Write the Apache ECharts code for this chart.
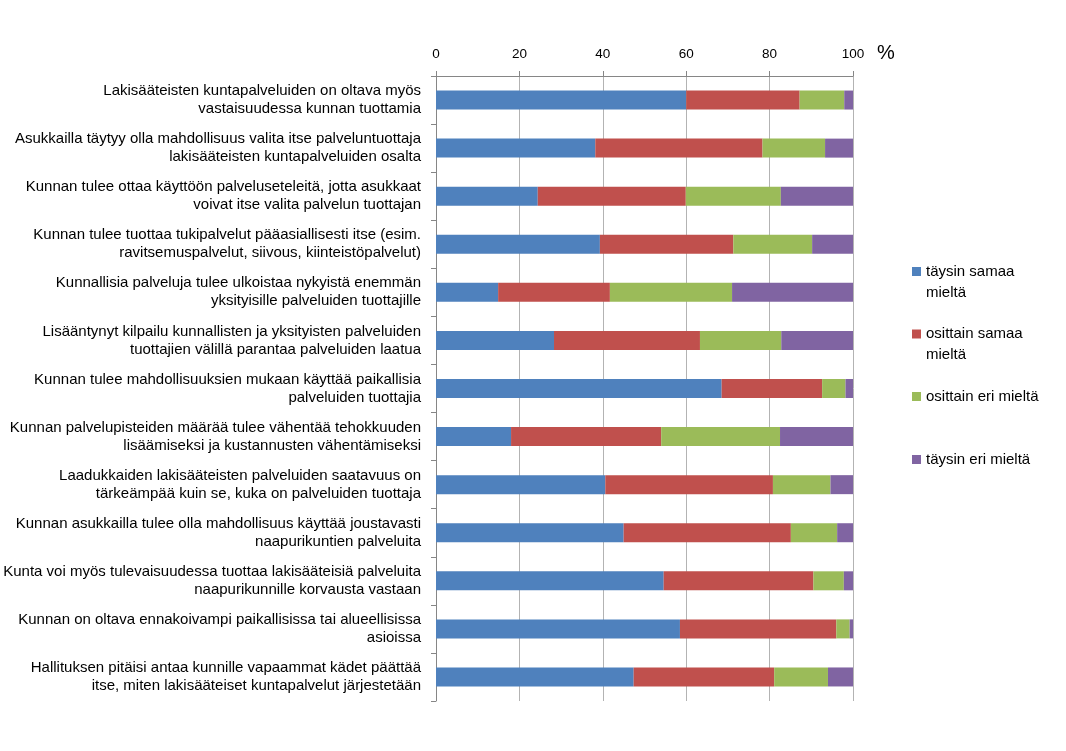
<!DOCTYPE html>
<html lang="fi">
<head>
    <meta charset="UTF-8">
    <title>Kuntapalvelut</title>
    <script src="https://cdn.jsdelivr.net/npm/echarts@6/dist/echarts.min.js"></script>
    <style>
        html, body { margin: 0; padding: 0; background: #fff; }
        #main { width: 1066px; height: 751px; }
    </style>
</head>
<body>
    <div id="main"></div>
    <script>
        // väittämät (ylhäältä alas)
        var categories = [
            'Lakisääteisten kuntapalveluiden on oltava myös\nvastaisuudessa kunnan tuottamia',
            'Asukkailla täytyy olla mahdollisuus valita itse palveluntuottaja\nlakisääteisten kuntapalveluiden osalta',
            'Kunnan tulee ottaa käyttöön palveluseteleitä, jotta asukkaat\nvoivat itse valita palvelun tuottajan',
            'Kunnan tulee tuottaa tukipalvelut pääasiallisesti itse (esim.\nravitsemuspalvelut, siivous, kiinteistöpalvelut)',
            'Kunnallisia palveluja tulee ulkoistaa nykyistä enemmän\nyksityisille palveluiden tuottajille',
            'Lisääntynyt kilpailu kunnallisten ja yksityisten palveluiden\ntuottajien välillä parantaa palveluiden laatua',
            'Kunnan tulee mahdollisuuksien mukaan käyttää paikallisia\npalveluiden tuottajia',
            'Kunnan palvelupisteiden määrää tulee vähentää tehokkuuden\nlisäämiseksi ja kustannusten vähentämiseksi',
            'Laadukkaiden lakisääteisten palveluiden saatavuus on\ntärkeämpää kuin se, kuka on palveluiden tuottaja',
            'Kunnan asukkailla tulee olla mahdollisuus käyttää joustavasti\nnaapurikuntien palveluita',
            'Kunta voi myös tulevaisuudessa tuottaa lakisääteisiä palveluita\nnaapurikunnille korvausta vastaan',
            'Kunnan on oltava ennakoivampi paikallisissa tai alueellisissa\nasioissa',
            'Hallituksen pitäisi antaa kunnille vapaammat kädet päättää\nitse, miten lakisääteiset kuntapalvelut järjestetään'
        ];

        var seriesNames = ['täysin samaa mieltä', 'osittain samaa mieltä', 'osittain eri mieltä', 'täysin eri mieltä'];
        // tyhjä ensimmäinen rivi pitää neliön ensimmäisen tekstirivin kohdalla
        var legendLabels = ['\ntäysin samaa\nmieltä', '\nosittain samaa\nmieltä', 'osittain eri mieltä', 'täysin eri mieltä'];

        var taysinSamaa   = [60.0, 38.2, 24.4, 39.3, 14.9, 28.3, 68.5, 18.0, 40.6, 45.0, 54.6, 58.5, 47.4];
        var osittainSamaa = [27.2, 40.1, 35.5, 32.0, 26.8, 35.0, 24.1, 36.0, 40.2, 40.1, 35.9, 37.5, 33.7];
        var osittainEri   = [10.7, 15.0, 22.8, 18.9, 29.3, 19.5, 5.6, 28.5, 13.8, 11.1, 7.3, 3.2, 12.9];
        var taysinEri     = [2.1, 6.7, 17.3, 9.8, 29.0, 17.2, 1.8, 17.5, 5.4, 3.8, 2.2, 0.8, 6.0];

        var colors = ['#4F81BD', '#C0504D', '#9BBB59', '#8064A2'];
        var values = [taysinSamaa, osittainSamaa, osittainEri, taysinEri];

        var fontFam = 'Liberation Sans, Arial, sans-serif';
        var myChart = echarts.init(document.getElementById('main'));

        var legendTops = [240, 302.5, 386, 449];
        var legends = seriesNames.map(function (name, i) {
            return {
                orient: 'vertical',
                left: 912,
                top: legendTops[i],
                padding: 0,
                itemWidth: 9,
                itemHeight: 9,
                itemGap: 0,
                icon: 'rect',
                selectedMode: false,
                data: [name],
                formatter: function () { return legendLabels[i]; },
                textStyle: {
                    fontFamily: fontFam,
                    fontSize: 15,
                    color: '#000',
                    lineHeight: 21
                }
            };
        });

        var option = {
            animation: false,
            color: colors,
            legend: legends,
            grid: {
                left: 436,
                right: 213,
                top: 76,
                bottom: 50,
                containLabel: false
            },
            graphic: [{
                type: 'text',
                left: 877,
                top: 43,
                style: {
                    text: '%',
                    fontFamily: fontFam,
                    fontSize: 20,
                    fill: '#000'
                }
            }],
            xAxis: {
                type: 'value',
                position: 'top',
                min: 0,
                max: 100,
                interval: 20,
                axisLine: { show: true, lineStyle: { color: '#868686', width: 1 } },
                axisTick: { show: true, length: 5, lineStyle: { color: '#868686' } },
                axisLabel: {
                    fontFamily: fontFam,
                    fontSize: 13.5,
                    color: '#000',
                    margin: 15
                },
                splitLine: { show: true, lineStyle: { color: '#b3b3b3', width: 1 } }
            },
            yAxis: {
                type: 'category',
                inverse: true,
                data: categories,
                axisLine: { show: true, lineStyle: { color: '#868686', width: 1 } },
                axisTick: { show: true, length: 5, lineStyle: { color: '#868686' } },
                axisLabel: {
                    fontFamily: fontFam,
                    fontSize: 15,
                    color: '#000',
                    lineHeight: 18,
                    align: 'right',
                    margin: 15
                }
            },
            series: seriesNames.map(function (name, i) {
                return {
                    name: name,
                    type: 'bar',
                    stack: 'total',
                    barWidth: 19,
                    data: values[i],
                    itemStyle: { color: colors[i] }
                };
            })
        };

        myChart.setOption(option);
    </script>
</body>
</html>
